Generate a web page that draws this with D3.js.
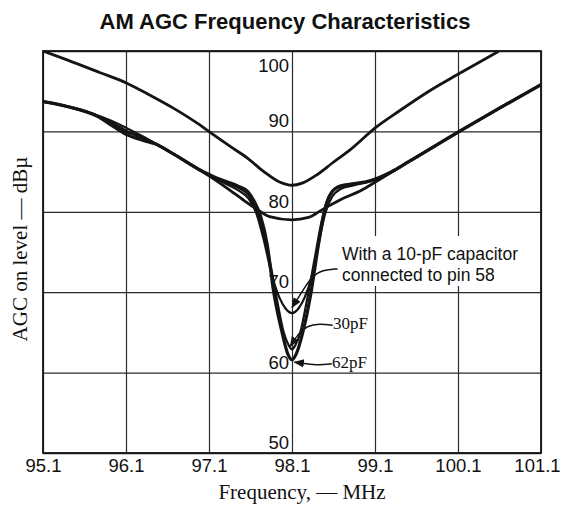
<!DOCTYPE html>
<html><head><meta charset="utf-8">
<script src="https://cdn.jsdelivr.net/npm/d3@7"></script>
<style>body{margin:0;background:#fff}svg{display:block}</style>
</head><body><svg id="c" width="561" height="509"></svg>
<script>
const chartTitle = "AM AGC Frequency Characteristics";
const xTitle = "Frequency, — MHz";
const yTitle = "AGC on level — dBµ";
const xTicks = [95.1, 96.1, 97.1, 98.1, 99.1, 100.1, 101.1];
const yTicks = [50, 60, 70, 80, 90, 100];

// Upper V-shaped curve
const upperFreq  = [95.1, 95.39, 95.79, 96.11, 96.39, 96.67, 96.99, 97.11, 97.36, 97.56, 97.76, 97.95, 98.1, 98.23, 98.4, 98.59, 98.8, 99.11, 99.4, 99.75, 100.1, 100.58];
const upperLevel = [100, 98.9, 97.3, 96.0, 94.5, 92.9, 90.8, 89.9, 88.1, 86.7, 85.0, 83.7, 83.3, 83.6, 84.6, 86.1, 87.7, 90.5, 92.6, 95.0, 97.1, 99.9];

// Broad lower curve
const baseFreq  = [95.1, 95.39, 95.79, 96.11, 96.39, 96.67, 96.99, 97.11, 97.35, 97.51, 97.68, 97.83, 98.1, 98.3, 98.47, 98.7, 98.92, 99.12, 99.5, 100.1, 100.6, 101.1];
const baseLevel = [93.7, 93.1, 91.8, 90.0, 88.8, 87.2, 85.2, 84.4, 82.7, 81.5, 80.3, 79.4, 79.0, 79.3, 80.3, 81.6, 82.6, 83.8, 86.2, 89.9, 92.9, 95.8];

// 10 pF capacitor curve
const pf10Freq  = [95.1, 95.39, 95.75, 95.95, 96.11, 96.3, 96.45, 96.67, 96.99, 97.15, 97.3, 97.45, 97.58, 97.67, 97.76, 97.86, 97.95, 98.02, 98.1, 98.18, 98.25, 98.34, 98.43, 98.5, 98.58, 98.68, 98.85, 99.05, 99.3, 99.5, 100.1, 100.6, 101.1];
const pf10Level = [93.7, 93.1, 92.0, 91.2, 90.4, 89.4, 88.5, 87.2, 85.2, 84.3, 83.5, 82.7, 81.6, 79.8, 76.5, 72.0, 69.3, 68.0, 67.4, 68.0, 69.3, 72.0, 76.5, 79.8, 81.8, 82.8, 83.3, 83.8, 84.9, 86.2, 89.9, 92.9, 95.8];

// 30 pF capacitor curve
const pf30Freq  = [95.1, 95.39, 95.79, 96.11, 96.39, 96.67, 96.99, 97.15, 97.3, 97.45, 97.58, 97.66, 97.74, 97.83, 97.92, 98.0, 98.06, 98.1, 98.14, 98.2, 98.28, 98.37, 98.45, 98.52, 98.6, 98.72, 98.9, 99.1, 99.3, 99.5, 100.1, 100.6, 101.1];
const pf30Level = [93.7, 93.1, 91.8, 90.0, 88.8, 87.2, 85.2, 84.4, 83.7, 83.0, 82.0, 80.5, 78.0, 74.0, 69.0, 65.0, 63.4, 62.9, 63.4, 65.0, 69.0, 74.0, 78.5, 81.3, 82.7, 83.2, 83.5, 84.0, 85.0, 86.2, 89.9, 92.9, 95.8];

// 62 pF capacitor curve
const pf62Freq  = [95.1, 95.39, 95.75, 95.95, 96.11, 96.3, 96.45, 96.67, 96.99, 97.15, 97.3, 97.45, 97.57, 97.65, 97.72, 97.8, 97.88, 97.98, 98.05, 98.1, 98.15, 98.23, 98.33, 98.42, 98.5, 98.57, 98.68, 98.85, 99.05, 99.3, 99.5, 100.1, 100.6, 101.1];
const pf62Level = [93.7, 93.1, 91.9, 90.6, 89.6, 88.9, 88.45, 87.2, 85.2, 84.4, 83.8, 83.2, 82.5, 81.2, 79.5, 76.0, 70.0, 65.0, 62.3, 61.6, 62.3, 65.0, 70.0, 76.0, 80.5, 82.3, 83.2, 83.5, 83.9, 85.0, 86.2, 89.9, 92.9, 95.8];

// Annotation texts
const noteLines = ["With a 10-pF capacitor", "connected to pin 58"];
const label30 = "30pF";
const label62 = "62pF";
// Leader lines (frequency, level)
const arrow10Freq = [98.65, 98.47, 98.33, 98.22, 98.1];
const arrow10Level = [72.9, 72.8, 71.9, 70.0, 68.1];
const arrow30Freq = [98.59, 98.43, 98.28, 98.18, 98.08];
const arrow30Level = [65.9, 66.1, 65.8, 64.9, 63.3];
const arrow62Freq = [98.58, 98.42, 98.27, 98.13];
const arrow62Level = [61.1, 60.9, 61.1, 61.3];

const svg = d3.select("#c");
const L = 43, R = 541, T = 51, B = 453;
const x = d3.scaleLinear().domain([95.1, 101.1]).range([L, R]);
const y = d3.scaleLinear().domain([50, 100]).range([B, T]);
const ink = "#141414";
const sans = "Liberation Sans, Arial, sans-serif";
const serif = "Liberation Serif, Times New Roman, serif";

svg.append("text").attr("x", 285).attr("y", 29).attr("text-anchor", "middle")
  .attr("font-family", sans).attr("font-weight", "bold")
  .attr("font-size", 22).attr("fill", "#111").text(chartTitle);

// grid
const gx = svg.append("g").attr("transform", `translate(0,${B})`)
  .call(d3.axisBottom(x).tickValues(xTicks).tickSize(-(B - T)).tickFormat(""));
gx.select(".domain").remove();
gx.selectAll("line").attr("stroke", "#2a2a2a").attr("stroke-width", 1.2);
const gy = svg.append("g").attr("transform", `translate(${L},0)`)
  .call(d3.axisLeft(y).tickValues(yTicks).tickSize(-(R - L)).tickFormat(""));
gy.select(".domain").remove();
gy.selectAll("line").attr("stroke", "#2a2a2a").attr("stroke-width", 1.3);

svg.append("rect").attr("x", L).attr("y", T).attr("width", R - L).attr("height", B - T)
  .attr("fill", "none").attr("stroke", ink).attr("stroke-width", 1.8);

// x tick labels
const xa = svg.append("g").attr("transform", `translate(0,${B})`)
  .call(d3.axisBottom(x).tickValues(xTicks).tickSize(0).tickPadding(6).tickFormat(d3.format(".1f")));
xa.select(".domain").remove();
xa.selectAll("text").attr("font-family", sans)
  .attr("font-size", 18.5).attr("fill", "#111")
  .attr("dx", d => d === 101.1 ? -4 : 0);

// y tick labels inside, near 98.1 line
svg.append("g").selectAll("text").data(yTicks).join("text")
  .attr("x", x(98.1) - 3)
  .attr("y", d => d === 100 ? y(d) + 21 : y(d) - 4)
  .attr("text-anchor", "end")
  .attr("font-family", sans).attr("font-size", 18.5).attr("fill", "#111")
  .text(d => d);

// axis titles
svg.append("text").attr("x", 302).attr("y", 499).attr("text-anchor", "middle")
  .attr("font-family", serif).attr("font-size", 21).attr("fill", "#111")
  .text(xTitle);
svg.append("text").attr("transform", "translate(27,249) rotate(-90)").attr("text-anchor", "middle")
  .attr("font-family", serif).attr("font-size", 21).attr("fill", "#111")
  .text(yTitle);

// curves
svg.append("clipPath").attr("id", "pc").append("rect")
  .attr("x", L).attr("y", T).attr("width", R - L).attr("height", B - T);
const line = d3.line().x(d => x(d[0])).y(d => y(d[1])).curve(d3.curveMonotoneX);
const series = [
  {f: baseFreq, v: baseLevel, w: 2.8},
  {f: pf10Freq, v: pf10Level, w: 2.2},
  {f: pf30Freq, v: pf30Level, w: 2.2},
  {f: pf62Freq, v: pf62Level, w: 3.2},
  {f: upperFreq, v: upperLevel, w: 2.8}
];
const cg = svg.append("g").attr("clip-path", "url(#pc)");
series.forEach(s => {
  cg.append("path").datum(d3.zip(s.f, s.v)).attr("d", line)
    .attr("fill", "none").attr("stroke", ink).attr("stroke-width", s.w)
    .attr("stroke-linejoin", "round").attr("stroke-linecap", "round");
});

// annotations
const defs = svg.append("defs");
defs.append("marker").attr("id", "ah").attr("viewBox", "0 0 10 10").attr("refX", 9).attr("refY", 5)
  .attr("markerWidth", 7).attr("markerHeight", 7).attr("orient", "auto-start-reverse")
  .append("path").attr("d", "M0,1 L10,5 L0,9 z").attr("fill", ink);

const noteX = 342;
svg.append("rect").attr("x", noteX - 4).attr("y", 236)
  .attr("width", 186).attr("height", 50).attr("fill", "#fff");
svg.append("g").selectAll("text").data(noteLines).join("text")
  .attr("x", noteX).attr("y", (d, i) => 260 + i * 21)
  .attr("font-family", sans).attr("font-size", 17.5).attr("fill", "#111")
  .text(d => d);

svg.append("text").attr("x", 333).attr("y", 329)
  .attr("font-family", serif).attr("font-size", 17).attr("fill", "#111").text(label30);
svg.append("text").attr("x", 332).attr("y", 368)
  .attr("font-family", serif).attr("font-size", 17).attr("fill", "#111").text(label62);

const aline = d3.line().x(d => x(d[0])).y(d => y(d[1])).curve(d3.curveBasis);
[[arrow10Freq, arrow10Level], [arrow30Freq, arrow30Level], [arrow62Freq, arrow62Level]].forEach(a => {
  svg.append("path").datum(d3.zip(a[0], a[1])).attr("d", aline)
    .attr("fill", "none").attr("stroke", ink).attr("stroke-width", 1.5)
    .attr("marker-end", "url(#ah)");
});
</script>
</body></html>
